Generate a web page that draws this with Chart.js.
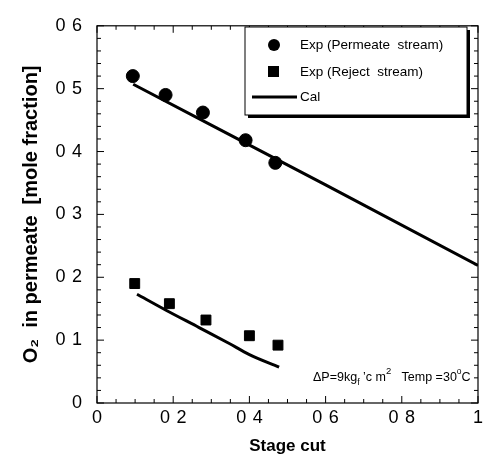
<!DOCTYPE html>
<html>
<head>
<meta charset="utf-8">
<script src="https://cdn.jsdelivr.net/npm/chart.js@4/dist/chart.umd.min.js"></script>
<style>
  html, body { margin: 0; padding: 0; background: #fff; }
  #wrap { width: 487px; height: 461px; }
</style>
</head>
<body>
<div id="wrap"><canvas id="chart" width="487" height="461"></canvas></div>
<script>
// values
const permX = [0.094, 0.18, 0.278, 0.39, 0.468];
const permY = [0.52, 0.49, 0.462, 0.418, 0.382];
const rejX = [0.099, 0.19, 0.286, 0.40, 0.475];
const rejY = [0.19, 0.158, 0.132, 0.107, 0.092];
const calPermX = [0.095, 0.3, 0.6, 1.0];
const calPermY = [0.507, 0.442, 0.347, 0.219];
const calRejX = [0.105, 0.18, 0.268, 0.346, 0.40, 0.478];
const calRejY = [0.173, 0.148, 0.12, 0.095, 0.077, 0.057];

const pts = (xs, ys) => xs.map((x, i) => ({ x: x, y: ys[i] }));
const FONT = 'Liberation Sans, Arial, sans-serif';
const GAP = ' \u200A';

// frame, inward ticks on all four sides
const frameTicks = {
  id: 'frameTicks',
  afterDatasetsDraw(chart) {
    const { ctx, chartArea: a, scales } = chart;
    ctx.save();
    ctx.strokeStyle = '#000';
    ctx.lineWidth = 1.2;
    ctx.strokeRect(a.left, a.top, a.right - a.left, a.bottom - a.top);
    ctx.lineWidth = 1;
    ctx.beginPath();
    for (let i = 0; i <= 20; i++) {
      const v = i * 0.05;
      const px = scales.x.getPixelForValue(v);
      const len = i % 4 === 0 ? 7 : 4;
      ctx.moveTo(px, a.bottom); ctx.lineTo(px, a.bottom - len);
      ctx.moveTo(px, a.top); ctx.lineTo(px, a.top + len);
    }
    for (let i = 0; i <= 30; i++) {
      const v = i * 0.02;
      const py = scales.y.getPixelForValue(v);
      const len = i % 5 === 0 ? 7 : 4;
      ctx.moveTo(a.left, py); ctx.lineTo(a.left + len, py);
      ctx.moveTo(a.right, py); ctx.lineTo(a.right - len, py);
    }
    ctx.stroke();
    ctx.restore();
  }
};

// boxed legend with shadow, plus condition note
const boxLegend = {
  id: 'boxLegend',
  afterDraw(chart) {
    const { ctx, scales } = chart;
    const ds = chart.data.datasets;
    const bx = 245, by = 27, bw = 222, bh = 88;
    ctx.save();
    ctx.fillStyle = '#000';
    ctx.fillRect(bx + 3, by + 3, bw, bh);
    ctx.fillStyle = '#fff';
    ctx.fillRect(bx, by, bw, bh);
    ctx.strokeStyle = '#000';
    ctx.lineWidth = 1;
    ctx.strokeRect(bx, by, bw, bh);

    ctx.fillStyle = '#000';
    ctx.font = '13.5px ' + FONT;
    ctx.textBaseline = 'middle';
    ctx.textAlign = 'left';
    // circle
    ctx.beginPath(); ctx.arc(274, 45, 6, 0, Math.PI * 2); ctx.fill();
    ctx.fillText(ds[0].label, 300, 45);
    // square
    ctx.fillRect(268, 66, 11, 11);
    ctx.fillText(ds[1].label, 300, 72);
    // line
    ctx.lineWidth = 3;
    ctx.beginPath(); ctx.moveTo(252, 97); ctx.lineTo(297, 97); ctx.stroke();
    ctx.fillText(ds[2].label, 300, 97);

    // note
    const y = scales.y.getPixelForValue(0.04);
    let x = scales.x.getPixelForValue(1) - 165;
    const put = (t, size, dy) => {
      ctx.font = size + 'px ' + FONT;
      ctx.fillText(t, x, y + dy);
      x += ctx.measureText(t).width;
    };
    put('\u0394P=9kg', 12.5, 0);
    put('f', 8.5, 5);
    put(' \u2019c m', 12.5, 0);
    put('2', 9.5, -6);
    put('   Temp =30', 12.5, 0);
    put('o', 8.5, -6);
    put('C', 12.5, 0);
    ctx.restore();
  }
};

new Chart(document.getElementById('chart'), {
  type: 'scatter',
  data: {
    datasets: [
      {
        label: 'Exp (Permeate  stream)',
        data: pts(permX, permY),
        pointStyle: 'circle', pointRadius: 6.5,
        backgroundColor: '#000', borderColor: '#000', showLine: false
      },
      {
        label: 'Exp (Reject  stream)',
        data: pts(rejX, rejY),
        pointStyle: 'rect', pointRadius: 7,
        backgroundColor: '#000', borderColor: '#000', showLine: false
      },
      {
        label: 'Cal',
        data: pts(calPermX, calPermY),
        showLine: true, pointRadius: 0, borderColor: '#000', borderWidth: 3,
        backgroundColor: '#000'
      },
      {
        label: 'Cal (reject)',
        data: pts(calRejX, calRejY),
        showLine: true, pointRadius: 0, borderColor: '#000', borderWidth: 3,
        backgroundColor: '#000', cubicInterpolationMode: 'monotone'
      }
    ]
  },
  options: {
    responsive: false,
    animation: false,
    layout: { padding: { top: 16, right: 7, left: 15, bottom: 0 } },
    plugins: { legend: { display: false }, tooltip: { enabled: false } },
    scales: {
      x: {
        type: 'linear', min: 0, max: 1,
        afterFit: s => { s.height = 58; },
        grid: { display: false, drawTicks: false },
        border: { display: false },
        ticks: {
          stepSize: 0.2, padding: 4, color: '#000',
          font: { family: FONT, size: 18 },
          callback: v => v === 0 || v === 1 ? String(v) : v.toFixed(1).replace('.', GAP)
        },
        title: {
          display: true, text: 'Stage cut', color: '#000',
          font: { family: FONT, size: 17, weight: 'bold' }, padding: { top: 8 }
        }
      },
      y: {
        type: 'linear', min: 0, max: 0.6,
        afterFit: s => { s.width = 82; },
        grid: { display: false, drawTicks: false },
        border: { display: false },
        ticks: {
          stepSize: 0.1, padding: 15, color: '#000',
          font: { family: FONT, size: 18 },
          callback: v => v === 0 ? '0' : v.toFixed(1).replace('.', GAP)
        },
        title: {
          display: true, text: 'O\u2082  in permeate  [mole fraction]', color: '#000',
          font: { family: FONT, size: 20, weight: 'bold' }, padding: { bottom: 4 }
        }
      }
    }
  },
  plugins: [frameTicks, boxLegend]
});
</script>
</body>
</html>
